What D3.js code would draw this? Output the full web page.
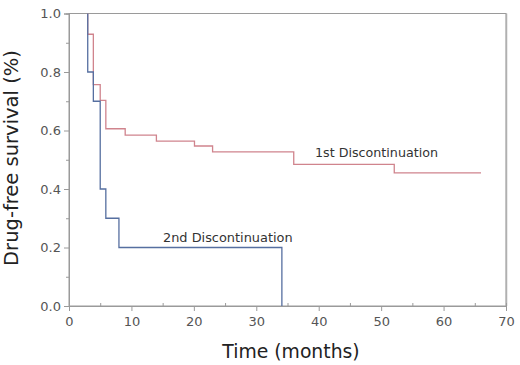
<!DOCTYPE html>
<html><head><meta charset="utf-8">
<script src="https://cdnjs.cloudflare.com/ajax/libs/d3/7.8.5/d3.min.js"></script>
<style>html,body{margin:0;padding:0;background:#fff}</style>
</head><body>
<svg id="c" width="520" height="365"></svg>
<script>
// 1st Discontinuation: step times (months) and survival after each step
const firstTimes = [3.0, 3.0, 3.9, 5.0, 5.9, 9.0, 14.0, 20.1, 23.0, 36.0, 52.1, 66.0];
const firstSurv  = [1.0, 0.929, 0.757, 0.703, 0.606, 0.584, 0.564, 0.547, 0.527, 0.484, 0.455, 0.455];
// 2nd Discontinuation
const secondTimes = [3.0, 3.0, 3.9, 5.0, 5.9, 8.0, 34.1];
const secondSurv  = [1.0, 0.8, 0.7, 0.4, 0.3, 0.2, 0.0];
const xTicks = [0, 10, 20, 30, 40, 50, 60, 70];
const xMinor = [5, 15, 25, 35, 45, 55, 65];
const yTicks = [0, 0.2, 0.4, 0.6, 0.8, 1.0];
const yMinor = [0.1, 0.3, 0.5, 0.7, 0.9];
const labels = ["1st Discontinuation", "2nd Discontinuation"];

const svg = d3.select("#c");
const x = d3.scaleLinear().domain([0, 70]).range([69, 506]);
const y = d3.scaleLinear().domain([0, 1]).range([306, 13.5]);
const axisCol = "#9a9a9a";
const font = "DejaVu Sans, Verdana, sans-serif";

// frame
svg.append("rect").attr("x", x(0)).attr("y", y(1)).attr("width", x(70) - x(0)).attr("height", y(0) - y(1))
  .attr("fill", "none").attr("stroke", axisCol).attr("stroke-width", 1);
svg.append("line").attr("x1", x(70)+0.5).attr("x2", x(70)+0.5).attr("y1", y(1)).attr("y2", y(0))
  .attr("stroke", "#b0b0b0").attr("stroke-width", 1.5);

// x ticks
const gx = svg.append("g").attr("transform", `translate(0,${y(0)})`);
gx.call(d3.axisBottom(x).tickValues(xTicks).tickSize(5).tickFormat(d3.format("d")));
gx.append("g").call(d3.axisBottom(x).tickValues(xMinor).tickSize(-3).tickFormat(""));
// y ticks
const gy = svg.append("g").attr("transform", `translate(${x(0)},0)`);
gy.call(d3.axisLeft(y).tickValues(yTicks).tickSize(5).tickFormat(d3.format(".1f")));
gy.append("g").call(d3.axisLeft(y).tickValues(yMinor).tickSize(3).tickFormat(""));
svg.selectAll(".domain").attr("stroke", axisCol);
svg.selectAll(".tick line").attr("stroke", axisCol);
svg.selectAll(".tick text").attr("fill", "#555").style("font-family", font).style("font-size", "13px");
gx.selectAll(".tick text").attr("dy", "0.9em");

// curves
const line = d3.line().curve(d3.curveStepAfter).x(d => x(d[0])).y(d => y(d[1]));
svg.append("path").datum(d3.zip(firstTimes, firstSurv)).attr("d", line)
  .attr("fill", "none").attr("stroke", "#d0848d").attr("stroke-width", 1.3);
svg.append("path").datum(d3.zip(secondTimes, secondSurv)).attr("d", line)
  .attr("fill", "none").attr("stroke", "#566fa0").attr("stroke-width", 1.3);

// labels
svg.append("text").attr("x", 315).attr("y", 157).text(labels[0])
  .style("font-family", font).style("font-size", "12.7px").attr("fill", "#333");
svg.append("text").attr("x", 163).attr("y", 242).text(labels[1])
  .style("font-family", font).style("font-size", "12.9px").attr("fill", "#333");

// axis titles
svg.append("text").attr("x", 291).attr("y", 358).attr("text-anchor", "middle").text("Time (months)")
  .style("font-family", font).style("font-size", "18.8px").attr("fill", "#222");
svg.append("text").attr("transform", "translate(18,158) rotate(-90)").attr("text-anchor", "middle")
  .text("Drug-free survival (%)").style("font-family", font).style("font-size", "19.5px").attr("fill", "#222");
</script>
</body></html>
